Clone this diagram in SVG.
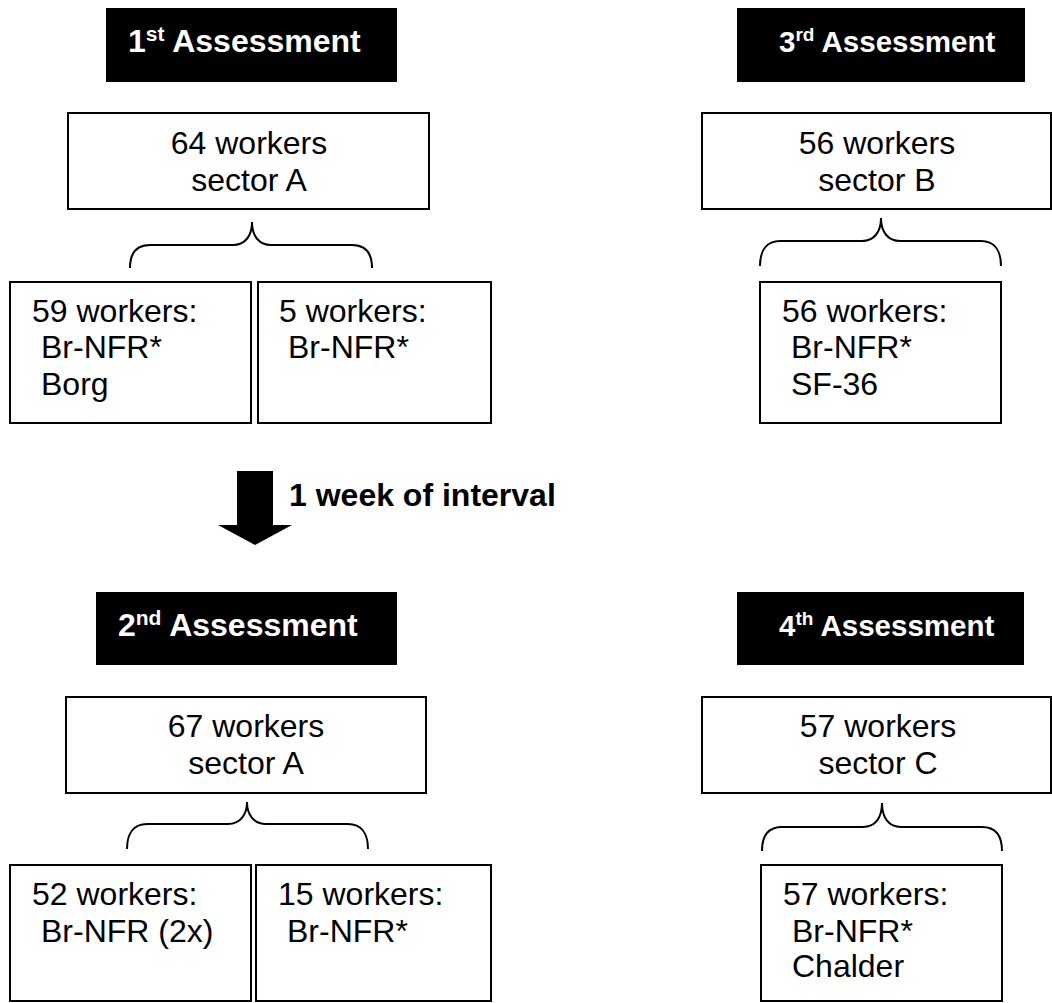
<svg xmlns="http://www.w3.org/2000/svg" width="1052" height="1003" viewBox="0 0 1052 1003">
<style>
.hdr{fill:#000}
.ht{font-family:"Liberation Sans",Arial,sans-serif;font-weight:bold;font-size:32px;fill:#fff}
.ht2{font-family:"Liberation Sans",Arial,sans-serif;font-weight:bold;font-size:29.5px;fill:#fff}
.box{fill:#fff;stroke:#000;stroke-width:2}
.t{font-family:"Liberation Sans",Arial,sans-serif;font-size:32px;fill:#000}
.c{text-anchor:middle}
.br{fill:none;stroke:#000;stroke-width:2}
.lbl{font-family:"Liberation Sans",Arial,sans-serif;font-weight:bold;font-size:32px;fill:#000}
</style>
<rect width="1052" height="1003" fill="#fff"/>

<g id="h1"><rect class="hdr" x="106" y="8" width="291" height="74"/><text class="ht" x="128" y="52">1<tspan font-size="21" dy="-11">st</tspan><tspan dy="11"> Assessment</tspan></text></g>
<g id="h3"><rect class="hdr" x="737" y="8" width="288" height="74"/><text class="ht2" x="779" y="52">3<tspan font-size="19" dy="-11">rd</tspan><tspan dy="11"> Assessment</tspan></text></g>
<g id="h2"><rect class="hdr" x="96" y="592" width="301" height="73"/><text class="ht" x="118" y="636">2<tspan font-size="21" dy="-11">nd</tspan><tspan dy="11"> Assessment</tspan></text></g>
<g id="h4"><rect class="hdr" x="737" y="592" width="287" height="73"/><text class="ht2" x="779" y="636">4<tspan font-size="19" dy="-11">th</tspan><tspan dy="11"> Assessment</tspan></text></g>

<g id="s1"><rect class="box" x="68" y="113" width="361" height="96"/><text class="t c" x="249" y="154">64 workers</text><text class="t c" x="249" y="191">sector A</text></g>
<g id="s3"><rect class="box" x="702" y="113" width="349" height="96"/><text class="t c" x="877" y="154">56 workers</text><text class="t c" x="877" y="191">sector B</text></g>
<g id="s2"><rect class="box" x="66" y="697" width="360" height="96"/><text class="t c" x="246" y="737">67 workers</text><text class="t c" x="246" y="774">sector A</text></g>
<g id="s4"><rect class="box" x="702" y="697" width="349" height="96"/><text class="t c" x="878" y="737">57 workers</text><text class="t c" x="878" y="774">sector C</text></g>

<g id="b1a"><rect class="box" x="10" y="282" width="241" height="141"/><text class="t" x="32" y="322">59 workers:</text><text class="t" x="41" y="358">Br-NFR*</text><text class="t" x="41" y="395">Borg</text></g>
<g id="b1b"><rect class="box" x="258" y="282" width="233" height="141"/><text class="t" x="279" y="322">5 workers:</text><text class="t" x="288" y="358">Br-NFR*</text></g>
<g id="b3"><rect class="box" x="760" y="282" width="241" height="141"/><text class="t" x="782" y="322">56 workers:</text><text class="t" x="791" y="358">Br-NFR*</text><text class="t" x="791" y="395">SF-36</text></g>
<g id="b2a"><rect class="box" x="10" y="865" width="241" height="136"/><text class="t" x="32" y="905">52 workers:</text><text class="t" x="41" y="942">Br-NFR (2x)</text></g>
<g id="b2b"><rect class="box" x="256" y="865" width="235" height="136"/><text class="t" x="278" y="905">15 workers:</text><text class="t" x="287" y="942">Br-NFR*</text></g>
<g id="b4"><rect class="box" x="761" y="865" width="241" height="136"/><text class="t" x="783" y="905">57 workers:</text><text class="t" x="792" y="942">Br-NFR*</text><text class="t" x="792" y="977">Chalder</text></g>

<g id="connectors">
<path class="br" d="M130,268 C130,253 137,245 150,245 L233,245 C245,245 252,236 252,222 C252,236 259,245 271,245 L352,245 C365,245 372,253 372,268"/>
<path class="br" d="M760,266 C760,250 767,241 780,241 L862,241 C874,241 881,232 881,218 C881,232 888,241 900,241 L981,241 C994,241 1001,250 1001,266"/>
<path class="br" d="M127,849 C127,833 134,824 147,824 L228,824 C240,824 247,815 247,802 C247,815 254,824 266,824 L348,824 C361,824 368,833 368,849"/>
<path class="br" d="M762,851 C762,835 769,827 782,827 L863,827 C875,827 882,818 882,803 C882,818 889,827 901,827 L982,827 C995,827 1002,835 1002,851"/>
<polygon points="237,471 273,471 273,525 292,525 255,545 218,525 237,525" fill="#000"/>
<text class="lbl" x="289" y="506">1 week of interval</text>
</g>
</svg>
